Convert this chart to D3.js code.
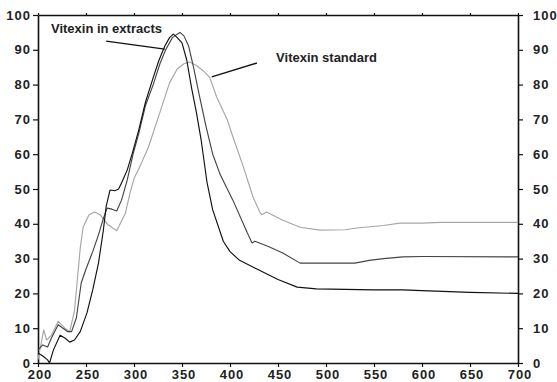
<!DOCTYPE html>
<html>
<head>
<meta charset="utf-8">
<script src="https://cdn.jsdelivr.net/npm/d3@7"></script>
<style>
  body { margin: 0; background: #fff; }
  svg text { font-family: "Liberation Sans", Arial, sans-serif; font-weight: bold; fill: #222; }
  .tick text { font-size: 13px; letter-spacing: 1px; }
</style>
</head>
<body>
<div id="chart-container"></div>
<script>
// Wavelength (nm) / signal pairs
var standardWave = [200, 206, 209, 214, 221, 228, 233, 238, 244, 247, 253, 259, 265, 273, 282, 291, 296, 300, 307, 315, 327, 337, 345, 352, 358, 365, 372, 379, 386, 397, 403, 414, 424, 431, 433, 438, 455, 473, 494, 520, 532, 560, 577, 600, 620, 700];
var standardValue = [1, 9.5, 6.6, 8, 12, 10, 9, 15, 33, 39, 42.5, 43.4, 42.5, 39.7, 38, 43, 49, 53, 57, 62, 72, 80.5, 84.5, 86, 86.5, 85.5, 84, 82, 76.5, 70, 65, 56.3, 47.7, 43.4, 42.6, 43.4, 41, 39, 38.2, 38.3, 38.8, 39.5, 40.2, 40.2, 40.4, 40.4];

var extractAWave = [200, 205, 210, 214, 221, 226, 231, 235, 240, 245, 250, 257, 263, 268, 272, 277, 282, 287, 293, 299, 305, 312, 320, 327, 333, 340, 345, 348, 352, 357, 362, 368, 375, 382, 390, 403, 418, 423, 426, 440, 455, 473, 500, 530, 545, 560, 580, 600, 700];
var extractAValue = [3.7, 5.2, 4.6, 7.2, 11, 10, 9, 9, 13, 23, 27, 32, 36.8, 41.5, 44.5, 44.2, 43.7, 46.8, 52.6, 60, 66, 74, 80, 86, 90, 93.5, 94.5, 95, 94, 91, 85, 77, 68, 60, 54, 46.8, 37.4, 34.5, 35, 33.5, 31.6, 28.7, 28.7, 28.7, 29.5, 30, 30.5, 30.6, 30.5];

var extractBWave = [200, 205, 210, 212, 216, 223, 228, 233, 238, 244, 251, 257, 263, 268, 271, 275, 280, 284, 287, 293, 298, 305, 312, 320, 326, 332, 337, 341, 344, 350, 355, 360, 365, 370, 376, 382, 393, 400, 410, 428, 450, 470, 490, 550, 580, 600, 650, 700];
var extractBValue = [2.9, 2, 0.9, 0, 3.7, 8, 7.2, 6, 6.6, 9, 14.4, 21, 28.7, 38, 45, 49.7, 49.5, 50, 51.7, 55.5, 60, 67, 75, 82, 87, 91, 93.5, 94.5, 93.8, 92, 87, 79, 72, 64, 52, 44, 35, 32, 29.5, 27, 24, 21.8, 21.3, 21, 21, 20.8, 20.3, 20];

// Axis ticks
var xTicks = [200, 250, 300, 350, 400, 450, 500, 550, 600, 650, 700];
var yTicks = [0, 10, 20, 30, 40, 50, 60, 70, 80, 90, 100];

// Labels and where their pointers sit (data units)
var labelText = ['Vitexin in extracts', 'Vitexin standard'];
var labelAt = [[213.5, 94.8], [448, 86.5]];
var pointerFrom = [[271, 92.5], [428, 86.2]];
var pointerTo = [[332, 90.2], [381, 82.2]];

var margin = { top: 15, right: 39, bottom: 19, left: 38 },
  width = 557 - margin.left - margin.right,
  height = 382 - margin.top - margin.bottom;

var svg = d3.select('#chart-container')
  .append('svg')
  .attr('width', 557)
  .attr('height', 382)
  .append('g')
  .attr('transform', 'translate(' + margin.left + ',' + margin.top + ')');

var x = d3.scaleLinear().domain([200, 700]).range([0, width]);
var y = d3.scaleLinear().domain([0, 100]).range([height, 0]);

function styleAxis(g, w) {
  g.select('.domain').attr('stroke', '#111').attr('stroke-width', w);
  g.selectAll('.tick line').attr('stroke', '#111').attr('stroke-width', 1.2);
}

// Frame: top, bottom, left, right
svg.append('g')
  .call(d3.axisTop(x).tickValues(xTicks).tickSize(2).tickSizeOuter(0).tickFormat(''))
  .call(styleAxis, 1.3);

svg.append('g')
  .attr('transform', 'translate(0,' + height + ')')
  .call(d3.axisBottom(x).tickValues(xTicks).tickSize(4).tickSizeOuter(0).tickPadding(3))
  .call(styleAxis, 1.3)
  .selectAll('.tick text').attr('dx', '1.5');

svg.append('g')
  .call(d3.axisLeft(y).tickValues(yTicks).tickSize(5).tickSizeOuter(0).tickPadding(2))
  .call(styleAxis, 1.6);

svg.append('g')
  .attr('transform', 'translate(' + width + ',0)')
  .call(d3.axisRight(y).tickValues(yTicks).tickSize(5).tickSizeOuter(0).tickPadding(10))
  .call(styleAxis, 1.6);

svg.selectAll('.tick text').attr('fill', '#222');

// The three curves, straight segments like the scanned trace
var line = d3.line()
  .x(function (d) { return x(d[0]); })
  .y(function (d) { return y(d[1]); });

var curves = [
  { wave: standardWave, value: standardValue, color: '#a6a6a6' },
  { wave: extractAWave, value: extractAValue, color: '#454545' },
  { wave: extractBWave, value: extractBValue, color: '#111111' }
];

curves.forEach(function (c) {
  var pts = c.wave.map(function (w, i) { return [w, c.value[i]]; });
  svg.append('path')
    .datum(pts)
    .attr('fill', 'none')
    .attr('stroke', c.color)
    .attr('stroke-width', 1.15)
    .attr('stroke-linejoin', 'round')
    .attr('d', line);
});

// Annotations
labelText.forEach(function (t, i) {
  svg.append('line')
    .attr('x1', x(pointerFrom[i][0])).attr('y1', y(pointerFrom[i][1]))
    .attr('x2', x(pointerTo[i][0])).attr('y2', y(pointerTo[i][1]))
    .attr('stroke', '#111').attr('stroke-width', 1.4);
  svg.append('text')
    .attr('x', x(labelAt[i][0]))
    .attr('y', y(labelAt[i][1]))
    .attr('font-size', 13)
    .text(t);
});
</script>
</body>
</html>
